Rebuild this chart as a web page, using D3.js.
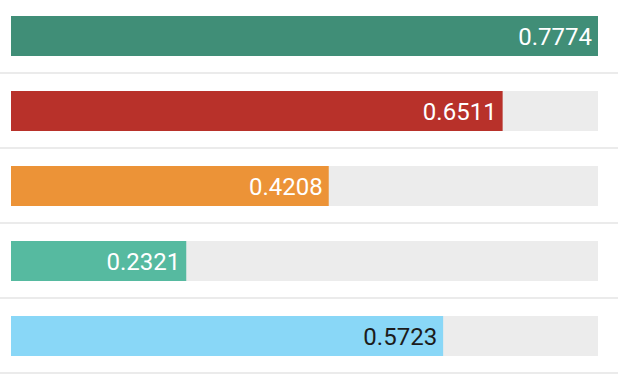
<!DOCTYPE html>
<html>
<head>
<meta charset="utf-8">
<script src="https://cdn.jsdelivr.net/npm/d3@7"></script>
<style>
  body { margin: 0; background: #fff; }
  svg text { font-family: Roboto, "Open Sans", sans-serif; }
</style>
</head>
<body>
<div id="chart"></div>
<script>
var values = [0.7774, 0.6511, 0.4208, 0.2321, 0.5723];
var colors = ['#408e77', '#b8312a', '#ec9337', '#56baa0', '#89d7f7'];
var labelColors = ['#ffffff', '#ffffff', '#ffffff', '#ffffff', '#1c1c1c'];

var width = 618,
    height = 385,
    padLeft = 11,
    padRight = 598,
    rowH = 75,
    barH = 40,
    padTop = 16;

var svg = d3.select('#chart').append('svg')
    .attr('width', width)
    .attr('height', height);

var x = d3.scaleLinear()
    .domain([0, d3.max(values)])
    .range([padLeft, padRight]);

var y = d3.scaleBand()
    .domain(d3.range(values.length))
    .range([padTop, padTop + rowH * values.length])
    .paddingInner(0)
    .paddingOuter(0);

var rows = svg.selectAll('g.row')
    .data(values)
    .enter().append('g')
    .attr('class', 'row')
    .attr('transform', function(d, i) {
        return 'translate(0,' + y(i) + ')';
    });

// grey track
rows.append('rect')
    .attr('x', x(0))
    .attr('y', 0)
    .attr('width', x.range()[1] - x(0))
    .attr('height', barH)
    .attr('fill', '#ececec');

// value bar
rows.append('rect')
    .attr('x', x(0))
    .attr('y', 0)
    .attr('width', function(d) { return x(d) - x(0); })
    .attr('height', barH)
    .attr('fill', function(d, i) { return colors[i]; });

// separator line
rows.append('rect')
    .attr('x', 0)
    .attr('y', 56)
    .attr('width', width)
    .attr('height', 2)
    .attr('fill', '#ebebeb');

rows.append('text')
    .attr('x', function(d) { return x(d) - 6; })
    .attr('y', barH / 2)
    .attr('dy', '0.36em')
    .attr('text-anchor', 'end')
    .style('font-size', '24px')
    .attr('fill', function(d, i) { return labelColors[i]; })
    .text(function(d) { return d.toFixed(4); });
</script>
</body>
</html>
